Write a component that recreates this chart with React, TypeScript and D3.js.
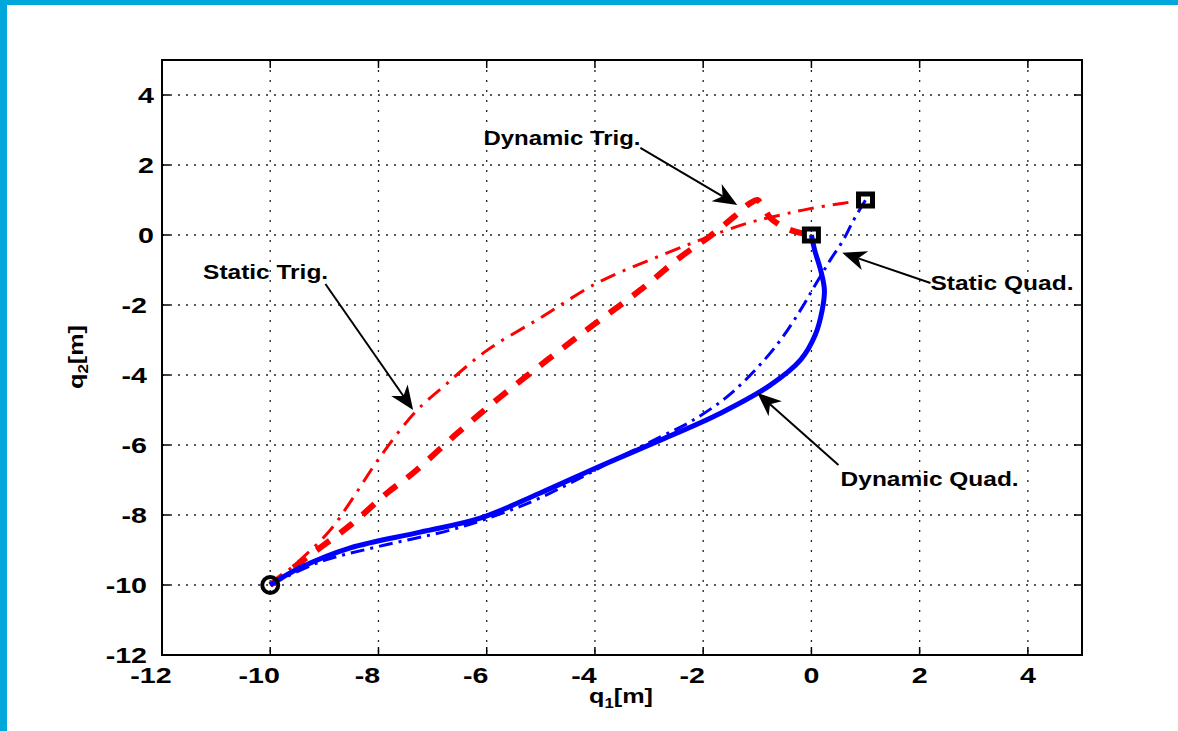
import React from "react";
import * as d3 from "d3";

// ---------- data ----------
const xTicks = [-12, -10, -8, -6, -4, -2, 0, 2, 4];
const yTicks = [-12, -10, -8, -6, -4, -2, 0, 2, 4];

const dynQuadX = [-10, -9.45, -8.52, -7.23, -6.12, -5.01, -3.9, -2.79, -1.68, -0.76, -0.2, 0.07, 0.2, 0.24, 0.17, 0.06, 0];
const dynQuadY = [-10, -9.51, -8.94, -8.49, -8.09, -7.37, -6.6, -5.86, -5.09, -4.29, -3.57, -2.86, -2.14, -1.57, -1.0, -0.43, 0];

const statQuadX = [-10, -9.08, -7.97, -6.67, -5.75, -5.01, -4.27, -3.53, -2.79, -2.24, -1.59, -1.04, -0.57, -0.2, 0.07, 0.35, 0.59, 0.76, 0.91, 1];
const statQuadY = [-10, -9.34, -8.89, -8.43, -7.97, -7.51, -6.94, -6.34, -5.77, -5.34, -4.66, -3.86, -3.0, -2.14, -1.43, -0.71, -0.14, 0.37, 0.77, 1];

const dynTrigX = [-10, -9.26, -8.52, -7.84, -7.36, -6.54, -5.75, -4.88, -4.03, -3.16, -2.42, -1.87, -1.44, -1.13, -1.0, -0.89, -0.76, -0.48, -0.2, 0];
const dynTrigY = [-10, -9.14, -8.29, -7.37, -6.8, -5.66, -4.63, -3.57, -2.57, -1.57, -0.63, -0.03, 0.51, 0.91, 1.0, 0.8, 0.49, 0.2, 0.06, 0];

const statTrigX = [-10, -9.45, -8.89, -8.47, -7.97, -7.32, -6.77, -5.99, -5.01, -3.96, -2.98, -2.05, -1.18, -0.57, -0.07, 0.59, 1];
const statTrigY = [-10, -9.29, -8.43, -7.51, -6.34, -5.06, -4.29, -3.29, -2.37, -1.37, -0.71, -0.14, 0.34, 0.57, 0.74, 0.91, 1];

const startPoint = [-10, -10];
const goalPoints = [[0, 0], [1, 1]];

// annotation: label, text anchor (data), arrow tail (data), arrow tip (data), text width
const annLabels = ["Dynamic Trig.", "Static Trig.", "Static Quad.", "Dynamic Quad."];
const annTextPos = [[-6.06, 2.57], [-11.24, -1.26], [2.2, -1.57], [0.54, -7.17]];
const annTail = [[-3.16, 2.49], [-8.98, -1.4], [2.2, -1.37], [0.5, -6.57]];
const annTip = [[-1.37, 0.86], [-7.36, -5.0], [0.57, -0.51], [-1.0, -4.51]];
const annWidth = [157, 125, 143, 178];

// ---------- layout ----------
const W = 1178;
const H = 731;
const PL = 162, PR = 1082, PT = 60, PB = 655;
const FONT = "'Liberation Sans', Arial, Helvetica, sans-serif";

const x = d3.scaleLinear().domain([-12, 5]).range([PL, PR]);
const y = d3.scaleLinear().domain([-12, 5]).range([PB, PT]);

const zip = (xs: number[], ys: number[]) => xs.map((v, i) => [v, ys[i]] as [number, number]);
const lineGen = d3
  .line<[number, number]>()
  .x((d) => x(d[0]))
  .y((d) => y(d[1]))
  .curve(d3.curveCatmullRom.alpha(0.5));

function Arrow({ tail, tip }: { tail: number[]; tip: number[] }) {
  const x1 = x(tail[0]), y1 = y(tail[1]);
  const x2 = x(tip[0]), y2 = y(tip[1]);
  const ang = Math.atan2(y2 - y1, x2 - x1);
  const L = 24, Wd = 10, ind = 7;
  const c = Math.cos(ang), s = Math.sin(ang);
  const pt = (a: number, b: number) => [x2 + a * c - b * s, y2 + a * s + b * c];
  const p1 = pt(-L, Wd), p2 = pt(-L + ind, 0), p3 = pt(-L, -Wd);
  return (
    <g>
      <line x1={x1} y1={y1} x2={p2[0]} y2={p2[1]} stroke="black" strokeWidth={2} />
      <polygon
        points={`${x2},${y2} ${p1[0]},${p1[1]} ${p2[0]},${p2[1]} ${p3[0]},${p3[1]}`}
        fill="black"
      />
    </g>
  );
}

export default function App() {
  const tickLen = 8;
  return (
    <svg
      width={W}
      height={H}
      style={{ position: "absolute", left: 0, top: 0, background: "white" }}
      fontFamily={FONT}
    >
      <rect x={0} y={0} width={W} height={H} fill="white" />
      {/* blue frame */}
      <rect x={0} y={0} width={W} height={5} fill="#00a7db" />
      <rect x={0} y={0} width={7} height={H} fill="#00a7db" />

      {/* grid */}
      {xTicks.slice(1).map((t) => (
        <line key={"gx" + t} x1={x(t)} x2={x(t)} y1={PT} y2={PB} stroke="#222" strokeWidth={1.3} strokeDasharray="2,8" />
      ))}
      {yTicks.slice(1).map((t) => (
        <line key={"gy" + t} x1={PL} x2={PR} y1={y(t)} y2={y(t)} stroke="#222" strokeWidth={1.3} strokeDasharray="2,6" />
      ))}

      {/* curves */}
      <path d={lineGen(zip(statTrigX, statTrigY)) || ""} fill="none" stroke="#ff0000" strokeWidth={3} strokeDasharray="16,8,3,8" />
      <path d={lineGen(zip(dynTrigX, dynTrigY)) || ""} fill="none" stroke="#ff0000" strokeWidth={6} strokeDasharray="16,13" />
      <path d={lineGen(zip(dynQuadX, dynQuadY)) || ""} fill="none" stroke="#0000ff" strokeWidth={5} />
      <path d={lineGen(zip(statQuadX, statQuadY)) || ""} fill="none" stroke="#0000ff" strokeWidth={3} strokeDasharray="14,6,3,6" />

      {/* markers */}
      <circle cx={x(startPoint[0])} cy={y(startPoint[1])} r={8} fill="none" stroke="black" strokeWidth={4} />
      {goalPoints.map((p, i) => (
        <rect key={"g" + i} x={x(p[0]) - 7} y={y(p[1]) - 6} width={14} height={12} fill="none" stroke="black" strokeWidth={5} />
      ))}

      {/* axes box */}
      <rect x={PL} y={PT} width={PR - PL} height={PB - PT} fill="none" stroke="black" strokeWidth={2} />
      {xTicks.map((t) => (
        <g key={"tx" + t}>
          <line x1={x(t)} x2={x(t)} y1={PB} y2={PB - tickLen} stroke="black" strokeWidth={1.5} />
          <line x1={x(t)} x2={x(t)} y1={PT} y2={PT + tickLen} stroke="black" strokeWidth={1.5} />
          <text
            transform={`translate(${x(t) - (t < 0 ? 11 : 0)},${PB + 28}) scale(1.3,1)`}
            textAnchor="middle"
            fontSize={22}
            fontWeight="bold"
          >
            {String(t)}
          </text>
        </g>
      ))}
      {yTicks.map((t) => (
        <g key={"ty" + t}>
          <line x1={PL} x2={PL + tickLen} y1={y(t)} y2={y(t)} stroke="black" strokeWidth={1.5} />
          <line x1={PR} x2={PR - tickLen} y1={y(t)} y2={y(t)} stroke="black" strokeWidth={1.5} />
          <text
            transform={`translate(${t < 0 ? 147 : 154},${y(t) + 8}) scale(1.3,1)`}
            textAnchor="end"
            fontSize={22}
            fontWeight="bold"
          >
            {String(t)}
          </text>
        </g>
      ))}

      {/* axis labels */}
      <text transform={`translate(621,703) scale(1.2,1)`} textAnchor="middle" fontSize={21} fontWeight="bold">
        q<tspan fontSize={14} dy={5}>1</tspan>
        <tspan dy={-5}>[m]</tspan>
      </text>
      <text transform={`translate(83,357) rotate(-90) scale(1.2,1)`} textAnchor="middle" fontSize={21} fontWeight="bold">
        q<tspan fontSize={14} dy={5}>2</tspan>
        <tspan dy={-5}>[m]</tspan>
      </text>

      {/* annotations */}
      {annLabels.map((lab, i) => (
        <g key={"a" + i}>
          <Arrow tail={annTail[i]} tip={annTip[i]} />
          <text
            x={x(annTextPos[i][0])}
            y={y(annTextPos[i][1])}
            fontSize={20}
            fontWeight="bold"
            textLength={annWidth[i]}
            lengthAdjust="spacingAndGlyphs"
          >
            {lab}
          </text>
        </g>
      ))}
    </svg>
  );
}
